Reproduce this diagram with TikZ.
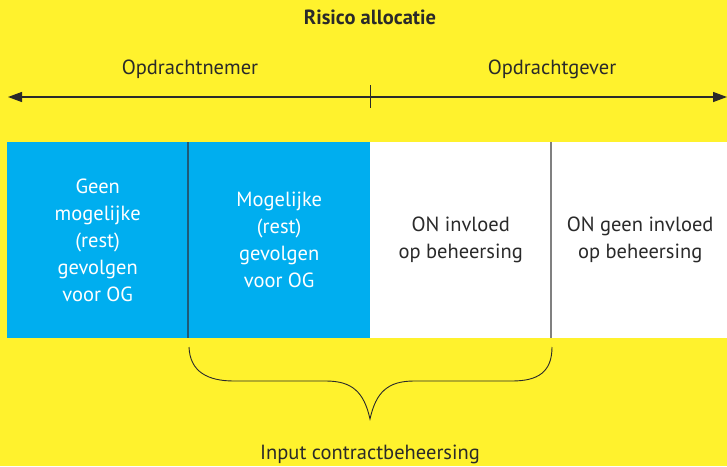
\documentclass[tikz,border=0pt]{standalone}
\usepackage{fontspec}
\setmainfont{PT Sans}
\usetikzlibrary{arrows.meta}
\definecolor{bgyellow}{HTML}{FFF22D}
\definecolor{riskblue}{HTML}{00AEEF}
\definecolor{txtgray}{HTML}{2A2A2A}
\begin{document}
\begin{tikzpicture}[x=1pt,y=-1pt,
  lbl/.style={text=txtgray,font=\fontsize{20.5}{27}\selectfont,align=center,inner sep=0pt},
  cell/.style={draw=none,minimum height=196pt,inner sep=0pt,anchor=north west}]
\fill[bgyellow] (0,0) rectangle (727,466);
\useasboundingbox (0,0) rectangle (727,466);
% title and sides
\node[lbl,font=\bfseries\fontsize{20.5}{22}\selectfont] (title) at (370,17) {Risico allocatie};
\node[lbl] (on) at (190,69) {Opdrachtnemer};
\node[lbl] (og) at (552,69) {Opdrachtgever};
% axis
\coordinate (aL) at (8,97);
\coordinate (aR) at (727,97);
\coordinate (tT) at (370,85);
\coordinate (tB) at (370,108);
\draw[txtgray,line width=1.3pt,{Triangle[length=14pt,width=10pt]}-{Triangle[length=14pt,width=10pt]}] (aL) -- (aR);
\draw[txtgray,line width=0.9pt] (tT) -- (tB);
% boxes
\node[cell,fill=riskblue,minimum width=181pt] (b1) at (7,142) {};
\node[cell,fill=riskblue,minimum width=182pt] (b2) at (188,142) {};
\node[cell,fill=white,minimum width=181pt] (b3) at (370,142) {};
\node[cell,fill=white,minimum width=176pt] (b4) at (551,142) {};
\draw[draw={rgb,255:red,30;green,90;blue,120},line width=1.3pt] (b2.north west) -- (b2.south west);
\draw[draw=gray,line width=1.3pt] (b4.north west) -- (b4.south west);
\node[lbl,text=white] (t1) at (b1.center) {Geen\\mogelijke\\(rest)\\gevolgen\\voor OG};
\node[lbl,text=white] (t2) at (b2.center) {Mogelijke\\(rest)\\gevolgen\\voor OG};
\node[lbl] (t3) at (b3.center) {ON invloed\\op beheersing};
\node[lbl] (t4) at ([xshift=1pt]b4.center) {ON geen invloed\\op beheersing};
% brace
\coordinate (brL) at (189,347);
\coordinate (brR) at (552,347);
\coordinate (brT) at (370,419);
\draw[txtgray,line width=0.9pt]
  (brL) .. controls (190,372) and (208,381) .. (234,381) -- (326,381)
  .. controls (352,381) and (364,392) .. (brT)
  .. controls (376,392) and (388,381) .. (414,381) -- (512,381)
  .. controls (538,381) and (552,372) .. (brR);
\node[lbl] (inp) at (370,454) {Input contractbeheersing};
\end{tikzpicture}
\end{document}
